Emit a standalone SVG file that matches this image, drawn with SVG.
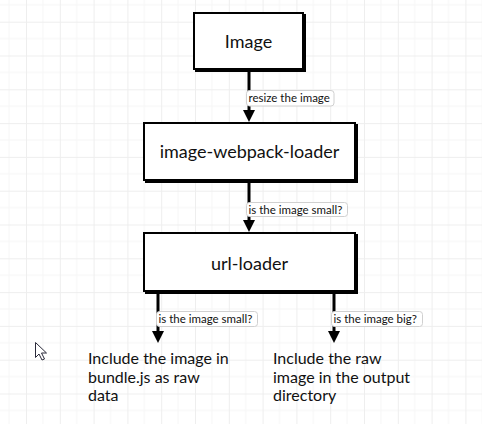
<svg xmlns="http://www.w3.org/2000/svg" width="482" height="424" viewBox="0 0 482 424">
  <defs>
    <pattern id="grid" x="26" y="21.7" width="33.8" height="33.8" patternUnits="userSpaceOnUse">
      <path d="M16.9 0V33.8M0 16.9H33.8" stroke="#f6f6f6" stroke-width="1" fill="none"/>
      <path d="M0.5 0V33.8M0 0.5H33.8" stroke="#eeeeee" stroke-width="1" fill="none"/>
    </pattern>
    <marker id="arrow" viewBox="0 0 12 12" refX="8" refY="6" markerWidth="12" markerHeight="12" markerUnits="userSpaceOnUse" orient="auto">
      <path d="M0,0 L12,6 L0,12 z" fill="#000"/>
    </marker>
    <style>
      .box { fill: #fff; stroke: #000; stroke-width: 2; }
      .shadow { fill: #000; stroke: #000; stroke-width: 2; }
      .title { font-family: Lato, "Liberation Sans", sans-serif; font-size: 18px; fill: #111; text-anchor: middle; }
      .conn { stroke: #000; stroke-width: 3; fill: none; marker-end: url(#arrow); }
      .lbl { fill: #fff; stroke: #d0d0d0; stroke-width: 1; }
      .lbltxt { font-family: Lato, "Liberation Sans", sans-serif; font-size: 11.5px; fill: #111; }
      .out { font-family: Lato, "Liberation Sans", sans-serif; font-size: 16px; fill: #111; }
    </style>
  </defs>
  <rect width="482" height="424" fill="#fff"/>
  <rect width="482" height="424" fill="url(#grid)"/>

  <g id="connectors">
    <path class="conn" d="M249 72V118"/>
    <path class="conn" d="M249 183V228"/>
    <path class="conn" d="M158 294V339"/>
    <path class="conn" d="M334 294V339"/>
    <g id="label-resize">
      <rect class="lbl" x="246.5" y="90.5" width="87.5" height="15.5" rx="3"/>
      <text class="lbltxt" x="248.5" y="102">resize the image</text>
    </g>
    <g id="label-small-1">
      <rect class="lbl" x="246.5" y="202.5" width="101" height="14" rx="3"/>
      <text class="lbltxt" x="248.5" y="213.5">is the image small?</text>
    </g>
    <g id="label-small-2">
      <rect class="lbl" x="156.5" y="311.5" width="101" height="15" rx="3"/>
      <text class="lbltxt" x="158.5" y="323">is the image small?</text>
    </g>
    <g id="label-big">
      <rect class="lbl" x="331.5" y="311.5" width="91" height="15" rx="3"/>
      <text class="lbltxt" x="333.5" y="323">is the image big?</text>
    </g>
  </g>

  <g id="node-image">
    <rect class="shadow" x="196" y="15" width="109" height="56"/>
    <rect class="box" x="194" y="13" width="109" height="56"/>
    <text class="title" x="248.5" y="48.3">Image</text>
  </g>
  <g id="node-image-webpack-loader">
    <rect class="shadow" x="146" y="125" width="211" height="57"/>
    <rect class="box" x="144" y="123" width="211" height="57"/>
    <text class="title" x="249.5" y="158.3">image-webpack-loader</text>
  </g>
  <g id="node-url-loader">
    <rect class="shadow" x="146" y="235" width="211" height="58"/>
    <rect class="box" x="144" y="233" width="211" height="58"/>
    <text class="title" x="249.5" y="270">url-loader</text>
  </g>

  <g id="node-inline">
    <text class="out" x="88" y="364">
      <tspan x="88" y="364">Include the image in</tspan>
      <tspan x="88" y="382.5">bundle.js as raw</tspan>
      <tspan x="88" y="401">data</tspan>
    </text>
  </g>
  <g id="node-output">
    <text class="out" x="273" y="364">
      <tspan x="273" y="364">Include the raw</tspan>
      <tspan x="273" y="382.5">image in the output</tspan>
      <tspan x="273" y="401">directory</tspan>
    </text>
  </g>

  <path d="M35.5 342.5V357.5L39 354L42 360L44.5 359L41.5 353H46.5Z" fill="#fff" stroke="#2a2a3a" stroke-width="1" stroke-linejoin="round"/>
</svg>
